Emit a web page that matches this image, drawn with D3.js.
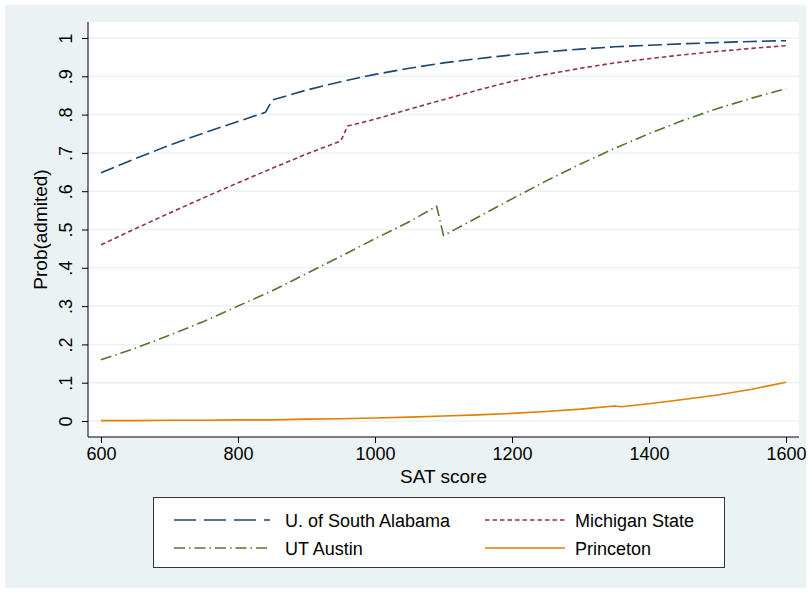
<!DOCTYPE html>
<html>
<head>
<meta charset="utf-8">
<script src="https://cdn.jsdelivr.net/npm/d3@7"></script>
<style>
  body { margin: 0; background: #fff; }
  svg text { font-family: "Liberation Sans", Arial, sans-serif; fill: #000; }
</style>
</head>
<body>
<svg id="chart" width="810" height="592"></svg>
<script>
// SAT score grid and probability of admission per school
const alabamaSat = [600, 650, 700, 750, 800, 840, 850, 900, 950, 1000, 1050, 1100, 1150, 1200, 1250, 1300, 1350, 1400, 1450, 1500, 1550, 1600];
const alabamaProb = [0.648, 0.685, 0.72, 0.752, 0.782, 0.806, 0.838, 0.864, 0.886, 0.905, 0.921, 0.935, 0.946, 0.956, 0.964, 0.971, 0.977, 0.981, 0.985, 0.988, 0.991, 0.993];

const michiganSat = [600, 650, 700, 750, 800, 850, 900, 950, 960, 1000, 1050, 1100, 1150, 1200, 1250, 1300, 1350, 1400, 1450, 1500, 1550, 1600];
const michiganProb = [0.46, 0.502, 0.543, 0.583, 0.622, 0.66, 0.697, 0.731, 0.77, 0.788, 0.814, 0.839, 0.864, 0.887, 0.905, 0.921, 0.935, 0.946, 0.956, 0.965, 0.973, 0.98];

const austinSat = [600, 650, 700, 750, 800, 850, 900, 950, 1000, 1050, 1090, 1100, 1150, 1200, 1250, 1300, 1350, 1400, 1450, 1500, 1550, 1600];
const austinProb = [0.16, 0.19, 0.224, 0.26, 0.3, 0.34, 0.385, 0.43, 0.476, 0.52, 0.561, 0.484, 0.532, 0.58, 0.627, 0.671, 0.712, 0.75, 0.785, 0.816, 0.843, 0.868];

const princetonSat = [600, 650, 700, 750, 800, 850, 900, 950, 1000, 1050, 1100, 1150, 1200, 1250, 1300, 1350, 1360, 1400, 1450, 1500, 1550, 1600];
const princetonProb = [0.001, 0.001, 0.002, 0.002, 0.003, 0.003, 0.005, 0.006, 0.008, 0.01, 0.013, 0.016, 0.02, 0.025, 0.031, 0.039, 0.037, 0.045, 0.056, 0.068, 0.083, 0.101];

const xTicks = [600, 800, 1000, 1200, 1400, 1600];
const yTicks = [0, 0.1, 0.2, 0.3, 0.4, 0.5, 0.6, 0.7, 0.8, 0.9, 1];

const series = [
  { name: "U. of South Alabama", sat: alabamaSat, prob: alabamaProb, color: "#1a476f", dash: "14,5", legendDash: "22,8" },
  { name: "Michigan State", sat: michiganSat, prob: michiganProb, color: "#90353b", dash: "4.5,3", legendDash: "4.5,3" },
  { name: "UT Austin", sat: austinSat, prob: austinProb, color: "#55752f", dash: "11,4,1.5,4", legendDash: "11,4,1.5,4" },
  { name: "Princeton", sat: princetonSat, prob: princetonProb, color: "#e37e00", dash: null, legendDash: null },
];

const svg = d3.select("#chart");
const bg = "#eaf2f3";

// outer graph region
svg.append("rect").attr("x", 5).attr("y", 5).attr("width", 801).attr("height", 583).attr("fill", bg);

const plot = { left: 88, right: 799, top: 22, bottom: 437 };
svg.append("rect")
  .attr("x", plot.left).attr("y", plot.top)
  .attr("width", plot.right - plot.left).attr("height", plot.bottom - plot.top)
  .attr("fill", "#fff");

const x = d3.scaleLinear().domain([600, 1600]).range([101, 786]);
const y = d3.scaleLinear().domain([0, 1]).range([421, 38]);

// grid lines
svg.append("g")
  .selectAll("line")
  .data(yTicks)
  .enter()
  .append("line")
  .attr("x1", plot.left).attr("x2", plot.right)
  .attr("y1", (d) => y(d)).attr("y2", (d) => y(d))
  .attr("stroke", bg).attr("stroke-width", 1.5);

const probFormat = (d) => (d === 0 ? "0" : d === 1 ? "1" : d3.format(".1f")(d).replace(/^0/, ""));

const yAxis = svg.append("g")
  .attr("transform", `translate(${plot.left},0)`)
  .call(d3.axisLeft(y).tickValues(yTicks).tickFormat(probFormat).tickSize(6).tickSizeOuter(0));
yAxis.select(".domain").attr("d", `M0,${plot.top}V${plot.bottom}`);
yAxis.selectAll("text")
  .attr("transform", "rotate(-90)")
  .attr("x", 0).attr("y", -16).attr("dy", 0)
  .attr("text-anchor", "middle")
  .style("font-size", "18px");

const xAxis = svg.append("g")
  .attr("transform", `translate(0,${plot.bottom})`)
  .call(d3.axisBottom(x).tickValues(xTicks).tickFormat(d3.format("d")).tickSize(6).tickPadding(4).tickSizeOuter(0));
xAxis.select(".domain").attr("d", `M${plot.left},0H${plot.right}`);
xAxis.selectAll("text").style("font-size", "18px");

svg.selectAll(".domain, .tick line").attr("stroke", "#000");

svg.append("text")
  .attr("x", (x(600) + x(1600)) / 2).attr("y", 483)
  .attr("text-anchor", "middle")
  .style("font-size", "19px")
  .text("SAT score");

svg.append("text")
  .attr("transform", `translate(47,${(y(0) + y(1)) / 2}) rotate(-90)`)
  .attr("text-anchor", "middle")
  .style("font-size", "19px")
  .text("Prob(admited)");

const line = d3.line()
  .x((d) => x(d[0]))
  .y((d) => y(d[1]));

svg.append("g")
  .selectAll("path")
  .data(series)
  .enter()
  .append("path")
  .attr("d", (s) => line(s.sat.map((v, i) => [v, s.prob[i]])))
  .attr("fill", "none")
  .attr("stroke", (s) => s.color)
  .attr("stroke-width", 1.6)
  .attr("stroke-linejoin", "round")
  .attr("stroke-dasharray", (s) => s.dash);

// legend
svg.append("rect")
  .attr("x", 153.5).attr("y", 497.5).attr("width", 571).attr("height", 70)
  .attr("fill", "#fff").attr("stroke", "#333").attr("stroke-width", 1);

const legendItem = svg.append("g")
  .selectAll("g")
  .data(series)
  .enter()
  .append("g")
  .attr("transform", (s, i) => `translate(${i % 2 === 0 ? 174 : 485},${i < 2 ? 520 : 548})`);

legendItem.append("line")
  .attr("x1", 0).attr("x2", (s, i) => (i % 2 === 0 ? 96 : 80))
  .attr("y1", 0).attr("y2", 0)
  .attr("stroke", (s) => s.color)
  .attr("stroke-width", 1.6)
  .attr("stroke-dasharray", (s) => s.legendDash);

legendItem.append("text")
  .attr("x", (s, i) => (i % 2 === 0 ? 111 : 90))
  .attr("y", 6.5)
  .style("font-size", "18px")
  .text((s) => s.name);
</script>
</body>
</html>
